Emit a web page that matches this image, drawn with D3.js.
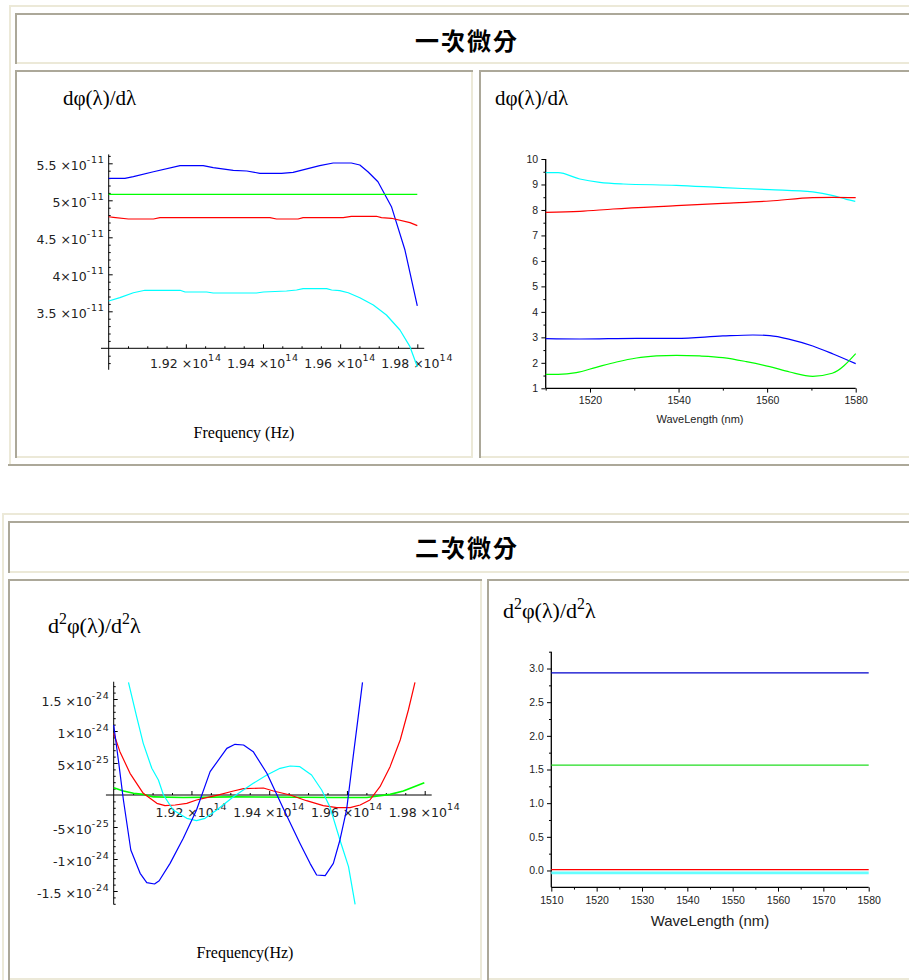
<!DOCTYPE html>
<html><head><meta charset="utf-8">
<script src="https://cdn.jsdelivr.net/npm/d3@7"></script>
<style>
html,body{margin:0;padding:0;background:#fff;overflow:hidden;}
svg{display:block;}
</style></head>
<body>
<svg id="page" width="909" height="980"></svg>
<script>
// ---------------- DATA ----------------
const headers = ["一次微分", "二次微分"];
const titleD1 = "dφ(λ)/dλ";
const freqLabel1 = "Frequency (Hz)";
const freqLabel2 = "Frequency(Hz)";
const waveLabel = "WaveLength (nm)";

// Top-left: dφ/dλ vs frequency (units: x 1e14 Hz, y 1e-11)
const tlBlue = [[1.9000,5.297],[1.9042,5.297],[1.9064,5.319],[1.9116,5.386],[1.9185,5.468],[1.9245,5.468],[1.9271,5.441],[1.9323,5.405],[1.9358,5.396],[1.9392,5.365],[1.9448,5.365],[1.9478,5.378],[1.9547,5.468],[1.9582,5.504],[1.9629,5.504],[1.9651,5.477],[1.9672,5.386],[1.9698,5.251],[1.9733,4.914],[1.9768,4.328],[1.9800,3.572]];
const tlGreen = [[1.9000,5.081],[1.9800,5.081]];
const tlRed = [[1.9000,4.778],[1.9012,4.770],[1.9051,4.747],[1.9116,4.747],[1.9133,4.765],[1.9418,4.765],[1.9435,4.747],[1.9491,4.747],[1.9504,4.765],[1.9608,4.765],[1.9629,4.784],[1.9694,4.784],[1.9707,4.765],[1.9733,4.757],[1.9781,4.698],[1.9800,4.658]];
const tlCyan = [[1.9000,3.639],[1.9029,3.684],[1.9064,3.751],[1.9094,3.784],[1.9185,3.784],[1.9198,3.761],[1.9254,3.761],[1.9271,3.747],[1.9383,3.747],[1.9401,3.761],[1.9461,3.774],[1.9487,3.788],[1.9504,3.806],[1.9565,3.806],[1.9578,3.788],[1.9599,3.779],[1.9621,3.751],[1.9651,3.684],[1.9686,3.585],[1.9720,3.450],[1.9755,3.247],[1.9781,3.022],[1.9800,2.751]];
const tlYTicks = [3.5, 4, 4.5, 5, 5.5];
const tlYMant = ["3.5 ", "4", "4.5 ", "5", "5.5 "];
const tlYExp = ["-11", "-11", "-11", "-11", "-11"];
const freqTicks = [1.92, 1.94, 1.96, 1.98];
const freqMant = ["1.92 ", "1.94 ", "1.96 ", "1.98 "];
const freqExp = ["14", "14", "14", "14"];

// Top-right: dφ/dλ vs wavelength
const trCyan = [[1510,9.464],[1512.8,9.464],[1517.7,9.216],[1522.2,9.085],[1527.5,9.019],[1539.5,8.967],[1550.0,8.876],[1560.6,8.797],[1570.3,8.706],[1574.9,8.562],[1577.9,8.418],[1579.9,8.339]];
const trRed = [[1510,7.907],[1517.7,7.947],[1525.2,8.038],[1539.5,8.169],[1550.0,8.261],[1560.6,8.352],[1570.3,8.483],[1574.9,8.496],[1580,8.483]];
const trBlue = [[1510,2.949],[1517.7,2.936],[1530.5,2.962],[1539.5,2.962],[1550.0,3.054],[1556.8,3.093],[1560.6,3.067],[1565.1,2.923],[1570.3,2.661],[1574.9,2.347],[1580,1.968]];
const trGreen = [[1510,1.549],[1512.8,1.549],[1516.9,1.615],[1521.4,1.824],[1526.0,2.033],[1530.5,2.190],[1535.0,2.269],[1539.5,2.295],[1544.8,2.269],[1550.0,2.204],[1555.3,2.047],[1560.6,1.850],[1565.1,1.641],[1570.3,1.471],[1574.7,1.589],[1580,2.361]];
const trYTicks = [1,2,3,4,5,6,7,8,9,10];
const trYMinor = [1.5,2.5,3.5,4.5,5.5,6.5,7.5,8.5,9.5];
const trXTicks = [1520,1540,1560,1580];
const trXMinor = [1510,1530,1550,1570];

// Bottom-left: d²φ/d²λ vs frequency (units: y 1e-25)
const blBlue = [[1.9000,10.94],[1.9012,5.47],[1.9025,-0.78],[1.9044,-8.59],[1.9068,-12.24],[1.9085,-13.70],[1.9105,-13.91],[1.9117,-13.39],[1.9145,-10.68],[1.9179,-6.77],[1.9213,-2.34],[1.9248,3.65],[1.9291,7.29],[1.9312,7.92],[1.9334,7.81],[1.9359,6.77],[1.9394,3.39],[1.9436,-2.08],[1.9479,-7.55],[1.9505,-10.68],[1.9522,-12.50],[1.9544,-12.60],[1.9565,-10.68],[1.9582,-7.03],[1.9599,-2.34],[1.9616,5.99],[1.9629,12.24],[1.9640,17.60]];
const blRed = [[1.9000,9.63],[1.9016,6.77],[1.9042,3.39],[1.9076,0.26],[1.9111,-1.30],[1.9132,-1.67],[1.9158,-1.56],[1.9188,-1.30],[1.9213,-0.78],[1.9239,-0.42],[1.9265,-0.05],[1.9308,0.62],[1.9334,0.99],[1.9385,1.09],[1.9411,0.62],[1.9454,0],[1.9496,-0.89],[1.9539,-1.67],[1.9574,-1.98],[1.9608,-1.98],[1.9634,-1.56],[1.9659,-0.78],[1.9685,1.30],[1.9711,4.43],[1.9737,8.59],[1.9758,13.28],[1.9775,17.60]];
const blCyan = [[1.9038,17.6],[1.9059,12.24],[1.9076,8.07],[1.9098,4.17],[1.9115,2.34],[1.9128,0],[1.9153,-2.34],[1.9188,-3.65],[1.9213,-4.01],[1.9235,-3.65],[1.9265,-2.34],[1.9308,-0.26],[1.9359,1.82],[1.9394,3.12],[1.9428,4.17],[1.9454,4.53],[1.9479,4.43],[1.9509,3.12],[1.9535,0.78],[1.9556,-1.82],[1.9582,-7.03],[1.9604,-11.20],[1.9621,-17.08]];
const blGreen = [[1.9000,1.15],[1.9025,0.62],[1.9051,0.26],[1.9076,0.10],[1.9102,-0.30],[1.9179,-0.40],[1.9308,-0.30],[1.9479,-0.35],[1.9565,-0.40],[1.9651,-0.40],[1.9711,0.10],[1.9745,0.62],[1.9799,1.93]];
const blYTicks = [-15, -10, -5, 5, 10, 15];
const blYMant = ["-1.5 ", "-1", "-5", "5", "1", "1.5 "];
const blYExp = ["-24", "-24", "-25", "-25", "-24", "-24"];

// Bottom-right: d²φ/d²λ vs wavelength (constant lines)
const brBlue = [[1510,2.936],[1580,2.936]];
const brGreen = [[1510,1.565],[1580,1.565]];
const brRed = [[1510,0.012],[1580,0.012]];
const brCyan = [[1510,-0.035],[1580,-0.035]];
const brYTicks = [0,0.5,1,1.5,2,2.5,3];
const brYMinor = [0.25,0.75,1.25,1.75,2.25,2.75,3.25];
const brXTicks = [1510,1520,1530,1540,1550,1560,1570,1580];
const brXMinor = [1515,1525,1535,1545,1555,1565,1575];

// ---------------- DRAW ----------------
const svg = d3.select("#page");
const LIGHT = "#ECE9D8", DARK = "#ACA899";

function rect(x,y,w,h,c){ svg.append("rect").attr("x",x).attr("y",y).attr("width",w).attr("height",h).attr("fill",c); }

// table 1 (outset) and its cells (inset)
rect(9,5,900,2,LIGHT); rect(9,5,2,460,LIGHT); rect(8,464,901,2,DARK);
rect(15,62,894,2,LIGHT); rect(15,13,894,2,DARK); rect(15,13,2,51,DARK);
rect(15,456,458,2,LIGHT); rect(471,70,2,388,LIGHT); rect(15,70,458,2,DARK); rect(15,70,2,388,DARK);
rect(479,456,430,2,LIGHT); rect(479,70,430,2,DARK); rect(479,70,2,388,DARK);
// table 2
rect(2,513,907,2,LIGHT); rect(2,513,2,467,LIGHT);
rect(8,571,901,2,LIGHT); rect(8,521,901,2,DARK); rect(8,521,2,52,DARK);
rect(8,978,474,2,LIGHT); rect(480,579,2,401,LIGHT); rect(8,579,474,2,DARK); rect(8,579,2,401,DARK);
rect(487,978,422,2,LIGHT); rect(487,579,422,2,DARK); rect(487,579,2,401,DARK);

// headers
[[headers[0],50],[headers[1],557]].forEach(([t,by])=>{
  svg.append("text").attr("x",467).attr("y",by).attr("text-anchor","middle")
    .attr("font-family","'Noto Sans CJK TC','Noto Sans CJK SC',sans-serif").attr("font-weight","700")
    .attr("font-size",24).attr("letter-spacing","2px").attr("fill","#000").text(t);
});

// titles
function title(x, y, size, sup){
  const t = svg.append("text").attr("x",x).attr("y",y).attr("font-family","'Liberation Serif','Times New Roman',serif")
    .attr("font-size",size).attr("fill","#000");
  if(!sup){ t.text(titleD1); return; }
  t.append("tspan").text("d");
  t.append("tspan").attr("dy",-9).attr("font-size",size*0.72).text("2");
  t.append("tspan").attr("dy",9).text("φ(λ)/d");
  t.append("tspan").attr("dy",-9).attr("font-size",size*0.72).text("2");
  t.append("tspan").attr("dy",9).text("λ");
}
title(63,105,21,false);
title(495,105,21,false);
title(48,633,22,true);
title(503,618,22,true);

function serifLabel(x,y,t){
  svg.append("text").attr("x",x).attr("y",y).attr("text-anchor","middle")
    .attr("font-family","'Liberation Serif','Times New Roman',serif").attr("font-size",16).attr("fill","#000").text(t);
}
serifLabel(244,438,freqLabel1);
serifLabel(245,958,freqLabel2);

const C = {blue:"#0000ff", red:"#ff0000", green:"#00ff00", cyan:"#00ffff"};

// Mathematica-style plot
function mathPlot(cfg){
  const g = svg.append("g");
  const x = d3.scaleLinear().domain(cfg.xDom).range(cfg.xRng);
  const y = d3.scaleLinear().domain(cfg.yDom).range(cfg.yRng);
  const ax = x(cfg.xDom[0]), ay = y(cfg.yDom[0]);
  g.append("line").attr("x1",x(cfg.xExt[0])).attr("x2",x(cfg.xExt[1])).attr("y1",ay).attr("y2",ay).attr("stroke","#000").attr("stroke-width",1);
  g.append("line").attr("x1",ax).attr("x2",ax).attr("y1",y(cfg.yExt[0])).attr("y2",y(cfg.yExt[1])).attr("stroke","#000").attr("stroke-width",1);
  const clean = s => s.call(a=>a.select(".domain").remove()).attr("color","#000");
  g.append("g").attr("transform",`translate(0,${ay})`).call(d3.axisTop(x).tickValues(cfg.xMinor).tickSize(2).tickSizeOuter(0).tickFormat("")).call(clean);
  g.append("g").attr("transform",`translate(0,${ay})`).call(d3.axisTop(x).tickValues(cfg.xTicks).tickSize(4).tickSizeOuter(0).tickFormat("")).call(clean);
  g.append("g").attr("transform",`translate(${ax},0)`).call(d3.axisRight(y).tickValues(cfg.yMinor).tickSize(2).tickSizeOuter(0).tickFormat("")).call(clean);
  g.append("g").attr("transform",`translate(${ax},0)`).call(d3.axisRight(y).tickValues(cfg.yTicks).tickSize(4).tickSizeOuter(0).tickFormat("")).call(clean);
  const font = "'DejaVu Sans',Verdana,sans-serif";
  cfg.yTicks.forEach((v,i)=>{
    const t = g.append("text").attr("x",ax-4).attr("y",y(v)+7).attr("text-anchor","end")
      .attr("font-family",font).attr("font-size",12.5).attr("fill","#222");
    t.append("tspan").text(cfg.yMant[i]+"×10");
    t.append("tspan").attr("dy",-7).attr("font-size",9.5).attr("letter-spacing","0.8px").text(cfg.yExp[i]);
  });
  cfg.xTicks.forEach((v,i)=>{
    const t = g.append("text").attr("x",x(v)).attr("y",ay+cfg.xLabDy).attr("text-anchor","middle")
      .attr("font-family",font).attr("font-size",12.5).attr("fill","#222");
    t.append("tspan").text(cfg.xMant[i]+"×10");
    t.append("tspan").attr("dy",-7).attr("font-size",9.5).attr("letter-spacing","0.8px").text(cfg.xExp[i]);
  });
  const line = d3.line().x(d=>x(d[0])).y(d=>y(d[1]));
  cfg.series.forEach(s=>{
    g.append("path").datum(s.d).attr("d",line).attr("fill","none").attr("stroke",s.c).attr("stroke-width",s.w||1.2).attr("stroke-linejoin","round");
  });
}

function range(a,b,st){ const r=[]; for(let v=a; v<=b+1e-9; v+=st) r.push(+v.toFixed(4)); return r; }

mathPlot({
  xDom:[1.90,1.98], xRng:[108.7,417.3], yDom:[3.0,5.5], yRng:[348.3,163.3],
  xExt:[1.898,1.9818], yExt:[2.71,5.62],
  xTicks:freqTicks, xMant:freqMant, xExp:freqExp,
  xMinor:range(1.905,1.98,0.005).filter(v=>!freqTicks.includes(v)),
  yTicks:tlYTicks, yMant:tlYMant, yExp:tlYExp,
  yMinor:range(2.8,5.6,0.1).filter(v=>!tlYTicks.includes(v) && Math.abs(v-3)>1e-6),
  xLabDy:20,
  series:[{d:tlBlue,c:C.blue},{d:tlGreen,c:C.green},{d:tlRed,c:C.red},{d:tlCyan,c:C.cyan}]
});

mathPlot({
  xDom:[1.90,1.98], xRng:[113.7,424.7], yDom:[0,15], yRng:[795,699],
  xExt:[1.898,1.9818], yExt:[-17.1,17.7],
  xTicks:freqTicks, xMant:freqMant, xExp:freqExp,
  xMinor:range(1.905,1.98,0.005).filter(v=>!freqTicks.includes(v)),
  yTicks:blYTicks, yMant:blYMant, yExp:blYExp,
  yMinor:range(-17,17,1).filter(v=>v!==0 && !blYTicks.includes(v)),
  xLabDy:21.7,
  series:[{d:blGreen,c:C.green,w:1.6},{d:blRed,c:C.red},{d:blCyan,c:C.cyan},{d:blBlue,c:C.blue}]
});

// Origin-style plot
function originPlot(cfg){
  const g = svg.append("g");
  const x = d3.scaleLinear().domain(cfg.xDom).range(cfg.xRng);
  const y = d3.scaleLinear().domain(cfg.yDom).range(cfg.yRng);
  const font = "'Liberation Sans',Arial,sans-serif";
  const clean = s => s.call(a=>a.select(".domain").remove()).attr("color","#000");
  const fmt = cfg.yFmt;
  g.append("g").attr("transform",`translate(0,${cfg.yRng[0]})`).call(d3.axisBottom(x).tickValues(cfg.xMinor).tickSize(2.3).tickSizeOuter(0).tickFormat("")).call(clean);
  const xa = g.append("g").attr("transform",`translate(0,${cfg.yRng[0]})`).call(d3.axisBottom(x).tickValues(cfg.xTicks).tickSize(4.3).tickSizeOuter(0).tickFormat(d3.format("d"))).call(clean);
  xa.selectAll("text").attr("font-family",font).attr("font-size",cfg.fs).attr("fill","#222").attr("dy",null).attr("y",cfg.xLabDy);
  g.append("g").attr("transform",`translate(${cfg.xRng[0]},0)`).call(d3.axisLeft(y).tickValues(cfg.yMinor).tickSize(2.3).tickSizeOuter(0).tickFormat("")).call(clean);
  const ya = g.append("g").attr("transform",`translate(${cfg.xRng[0]},0)`).call(d3.axisLeft(y).tickValues(cfg.yTicks).tickSize(4.3).tickSizeOuter(0).tickFormat(fmt)).call(clean);
  ya.selectAll("text").attr("font-family",font).attr("font-size",cfg.fs).attr("fill","#222").attr("x",-7.5);
  g.append("line").attr("x1",cfg.xRng[0]).attr("x2",cfg.xRng[1]).attr("y1",cfg.yRng[0]).attr("y2",cfg.yRng[0]).attr("stroke","#000").attr("stroke-width",1.3);
  g.append("line").attr("x1",cfg.xRng[0]).attr("x2",cfg.xRng[0]).attr("y1",cfg.yRng[0]).attr("y2",cfg.yRng[1]).attr("stroke","#000").attr("stroke-width",1.3);
  g.append("text").attr("x",cfg.titleX).attr("y",cfg.titleY).attr("text-anchor","middle").attr("font-family",font)
    .attr("font-size",cfg.tfs).attr("fill","#222").text(waveLabel);
  const line = d3.line().x(d=>x(d[0])).y(d=>y(d[1])).curve(d3.curveMonotoneX);
  cfg.series.forEach(s=>{
    g.append("path").datum(s.d).attr("d",line).attr("fill","none").attr("stroke",s.c).attr("stroke-width",s.w||1.2);
  });
}

originPlot({
  xDom:[1510,1580], xRng:[545.7,855.7], yDom:[1,10], yRng:[388.3,159],
  xTicks:trXTicks, xMinor:trXMinor, yTicks:trYTicks, yMinor:trYMinor, yFmt:d3.format("d"),
  fs:10.5, xLabDy:16, titleX:700, titleY:423, tfs:11,
  series:[{d:trCyan,c:C.cyan},{d:trRed,c:C.red},{d:trBlue,c:C.blue},{d:trGreen,c:C.green}]
});

originPlot({
  xDom:[1510,1580], xRng:[551.3,868.7], yDom:[-0.25,3.25], yRng:[887.3,651.7],
  xTicks:brXTicks, xMinor:brXMinor, yTicks:brYTicks, yMinor:brYMinor, yFmt:d3.format(".1f"),
  fs:10.5, xLabDy:17, titleX:710, titleY:926, tfs:15,
  series:[{d:brCyan,c:"#66ffff",w:2.6},{d:brRed,c:C.red,w:1.1},{d:brGreen,c:"#22dd22",w:1.1},{d:brBlue,c:"#0000cc",w:1.1}]
});
</script>
</body></html>
